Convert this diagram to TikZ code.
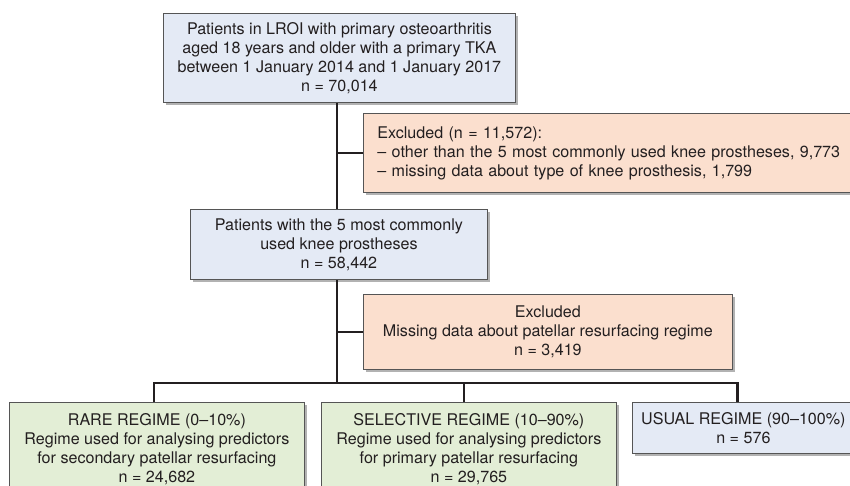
\documentclass[tikz,border=0pt]{standalone}
\usepackage{fontspec}
\setmainfont{TeX Gyre Heros}
\usetikzlibrary{shadows}
\definecolor{bluefill}{HTML}{E4EAF5}
\definecolor{orangefill}{HTML}{FBDFCE}
\definecolor{greenfill}{HTML}{E3EED6}
\definecolor{boxline}{HTML}{555555}
\definecolor{textcol}{HTML}{231F20}
\tikzset{
  basebox/.style={draw=boxline, line width=0.8pt, inner sep=0pt, anchor=north west,
    font=\fontsize{16.1}{19}\selectfont, align=center, text=textcol,
    drop shadow={shadow xshift=3pt, shadow yshift=-3pt, fill=black, opacity=0.3}},
  bluebox/.style={basebox, fill=bluefill},
  orangebox/.style={basebox, fill=orangefill},
  greenbox/.style={basebox, fill=greenfill},
  conn/.style={line width=2.6pt, draw=textcol}
}
\begin{document}
\begin{tikzpicture}[x=1pt,y=-1pt]
\useasboundingbox (0,0) rectangle (850,486);
\node[bluebox, minimum width=352pt, minimum height=89pt] (top) at (163,13)
  {Patients in LROI with primary osteoarthritis\\aged 18 years and older with a primary TKA\\between 1 January 2014 and 1 January 2017\\n = 70,014};
\node[orangebox, minimum height=79pt, align=left, inner xsep=14pt, text width=476pt] (ex1) at (363,113)
  {Excluded (n = 11,572):\\– other than the 5 most commonly used knee prostheses, 9,773\\– missing data about type of knee prosthesis, 1,799};
\node[bluebox, minimum width=297pt, minimum height=70pt] (mid) at (190,209)
  {Patients with the 5 most commonly\\used knee prostheses\\n = 58,442};
\node[orangebox, minimum width=369pt, minimum height=75pt] (ex2) at (363,294)
  {Excluded\\Missing data about patellar resurfacing regime\\n = 3,419};
\node[greenbox, minimum width=295pt, minimum height=93pt] (rare) at (9,402)
  {RARE REGIME (0–10\%)\\Regime used for analysing predictors\\for secondary patellar resurfacing\\n = 24,682};
\node[greenbox, minimum width=295pt, minimum height=93pt] (sel) at (321,402)
  {SELECTIVE REGIME (10–90\%)\\Regime used for analysing predictors\\for primary patellar resurfacing\\n = 29,765};
\node[bluebox, minimum width=222pt, minimum height=51pt] (usual) at (632,402)
  {USUAL REGIME (90–100\%)\\n = 576};
\coordinate (s) at (337,0);
\coordinate (br) at (337,383);
\draw[conn] (top.south -| s) -- (mid.north -| s);
\draw[conn] (ex1.west -| s) -- (ex1.west);
\draw[conn] (mid.south -| s) -- (br);
\draw[conn] (ex2.west -| s) -- (ex2.west);
\draw[conn] ([xshift=-3pt]rare.north) -- ([xshift=-3pt]rare.north |- br) -- ([xshift=-6pt]usual.north |- br) -- ([xshift=-6pt]usual.north);
\draw[conn] ([xshift=-5pt]sel.north) -- ([xshift=-5pt]sel.north |- br);
\end{tikzpicture}
\end{document}
